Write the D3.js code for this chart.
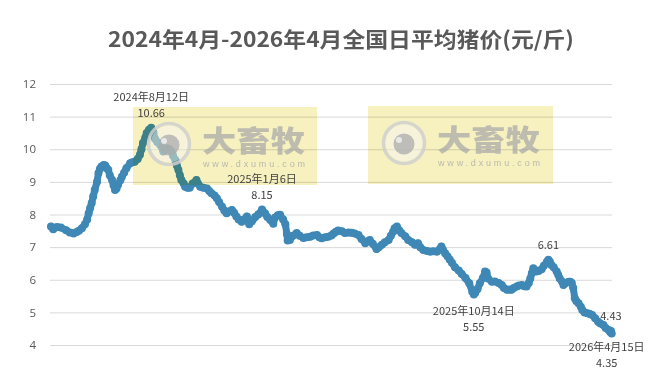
<!DOCTYPE html>
<html><head><meta charset="utf-8">
<script src="https://cdn.jsdelivr.net/npm/d3@7"></script>
<style>
html,body{margin:0;padding:0;background:#fff;}
svg{display:block;background:#fff;}
</style></head>
<body><svg id="chart" width="661" height="371"></svg>
<script>
const titleText = "2024年4月-2026年4月全国日平均猪价(元/斤)";
const yTicks = [4,5,6,7,8,9,10,11,12];
const dates = ["2024-04-01","2024-04-04","2024-04-09","2024-04-14","2024-04-21","2024-04-26","2024-05-01","2024-05-05","2024-05-08","2024-05-12","2024-05-16","2024-05-19","2024-05-21","2024-05-23","2024-05-25","2024-05-27","2024-05-29","2024-06-01","2024-06-03","2024-06-05","2024-06-07","2024-06-10","2024-06-12","2024-06-14","2024-06-16","2024-06-18","2024-06-21","2024-06-23","2024-06-25","2024-06-27","2024-06-29","2024-07-02","2024-07-04","2024-07-07","2024-07-10","2024-07-15","2024-07-18","2024-07-21","2024-07-25","2024-07-28","2024-07-30","2024-08-01","2024-08-04","2024-08-06","2024-08-09","2024-08-12","2024-08-15","2024-08-17","2024-08-20","2024-08-24","2024-08-28","2024-09-02","2024-09-05","2024-09-08","2024-09-10","2024-09-13","2024-09-15","2024-09-17","2024-09-19","2024-09-21","2024-09-24","2024-09-26","2024-09-29","2024-10-02","2024-10-06","2024-10-11","2024-10-13","2024-10-16","2024-10-20","2024-10-25","2024-10-28","2024-10-31","2024-11-04","2024-11-07","2024-11-10","2024-11-14","2024-11-17","2024-11-20","2024-11-24","2024-11-27","2024-11-30","2024-12-03","2024-12-06","2024-12-10","2024-12-13","2024-12-17","2024-12-20","2024-12-24","2024-12-28","2025-01-01","2025-01-06","2025-01-10","2025-01-13","2025-01-17","2025-01-21","2025-01-23","2025-01-27","2025-01-30","2025-02-03","2025-02-06","2025-02-08","2025-02-09","2025-02-12","2025-02-16","2025-02-21","2025-02-25","2025-03-02","2025-03-06","2025-03-11","2025-03-15","2025-03-20","2025-03-23","2025-03-26","2025-03-31","2025-04-04","2025-04-08","2025-04-11","2025-04-14","2025-04-17","2025-04-22","2025-04-26","2025-05-01","2025-05-05","2025-05-09","2025-05-14","2025-05-18","2025-05-23","2025-05-26","2025-05-29","2025-06-02","2025-06-07","2025-06-10","2025-06-14","2025-06-18","2025-06-23","2025-06-26","2025-06-29","2025-07-01","2025-07-04","2025-07-07","2025-07-10","2025-07-15","2025-07-19","2025-07-24","2025-07-28","2025-08-01","2025-08-04","2025-08-08","2025-08-13","2025-08-17","2025-08-21","2025-08-26","2025-08-29","2025-09-01","2025-09-03","2025-09-06","2025-09-09","2025-09-12","2025-09-15","2025-09-19","2025-09-24","2025-09-28","2025-10-03","2025-10-08","2025-10-12","2025-10-14","2025-10-16","2025-10-19","2025-10-22","2025-10-26","2025-10-29","2025-10-31","2025-11-02","2025-11-07","2025-11-11","2025-11-16","2025-11-20","2025-11-23","2025-11-27","2025-11-30","2025-12-03","2025-12-06","2025-12-10","2025-12-13","2025-12-17","2025-12-20","2025-12-23","2025-12-26","2025-12-28","2025-12-30","2026-01-01","2026-01-03","2026-01-05","2026-01-08","2026-01-12","2026-01-15","2026-01-19","2026-01-21","2026-01-23","2026-01-25","2026-01-28","2026-02-01","2026-02-03","2026-02-05","2026-02-08","2026-02-10","2026-02-13","2026-02-17","2026-02-19","2026-02-21","2026-02-23","2026-02-25","2026-02-27","2026-03-02","2026-03-05","2026-03-07","2026-03-10","2026-03-14","2026-03-17","2026-03-20","2026-03-24","2026-03-28","2026-03-31","2026-04-04","2026-04-07","2026-04-11","2026-04-13","2026-04-14","2026-04-15"];
const prices = [7.63,7.55,7.62,7.6,7.52,7.45,7.42,7.46,7.5,7.58,7.7,7.85,8.04,8.2,8.35,8.55,8.75,9.0,9.27,9.4,9.47,9.52,9.5,9.42,9.37,9.2,9.06,8.9,8.75,8.8,8.91,9.05,9.16,9.28,9.42,9.57,9.6,9.62,9.7,9.83,10.0,10.19,10.35,10.5,10.6,10.66,10.5,10.32,10.22,10.13,9.93,10.03,10.0,9.93,9.8,9.67,9.5,9.37,9.2,9.06,8.95,8.85,8.82,8.82,8.95,9.06,8.95,8.85,8.82,8.8,8.72,8.65,8.58,8.5,8.38,8.24,8.12,8.04,8.1,8.14,8.05,7.94,7.85,7.78,7.85,7.94,7.7,7.8,7.92,8.0,8.15,8.04,7.92,7.83,7.72,7.9,7.98,7.99,7.85,7.7,7.4,7.2,7.22,7.35,7.43,7.35,7.28,7.3,7.32,7.36,7.37,7.3,7.27,7.3,7.32,7.36,7.42,7.47,7.51,7.49,7.43,7.45,7.44,7.42,7.37,7.25,7.12,7.18,7.22,7.1,6.94,7.0,7.07,7.15,7.22,7.35,7.47,7.58,7.63,7.52,7.43,7.33,7.22,7.15,7.07,7.12,7.0,6.91,6.88,6.86,6.87,6.86,6.92,7.02,6.92,6.81,6.72,6.62,6.52,6.38,6.28,6.18,6.05,5.89,5.63,5.55,5.6,5.72,5.89,6.05,6.25,6.22,6.04,5.94,5.95,5.9,5.84,5.75,5.69,5.7,5.69,5.75,5.79,5.82,5.84,5.8,5.79,5.9,6.04,6.2,6.35,6.3,6.25,6.27,6.32,6.43,6.55,6.61,6.55,6.45,6.38,6.25,6.15,6.04,5.95,5.84,5.9,5.94,5.94,5.9,5.75,5.43,5.35,5.28,5.17,5.07,5.0,4.97,4.95,4.92,4.82,4.71,4.66,4.61,4.52,4.46,4.4,4.43,4.35];
// annotations
const annDates  = ["2024-08-12","2025-01-06","2025-10-14","2026-01-21","2026-04-14","2026-04-15"];
const annValues = [10.66, 8.15, 5.55, 6.61, 4.43, 4.35];
const annDateText = ["2024年8月12日","2025年1月6日","2025年10月14日","","","2026年4月15日"];
const annPlace  = ["above","above","below","above","above","below"];

const svg = d3.select("#chart");
const parse = d3.timeParse("%Y-%m-%d");
const data = dates.map((d,i)=>({date:parse(d), value:prices[i]}));

const x = d3.scaleTime().domain([parse("2024-04-01"), parse("2026-04-15")]).range([51, 611.7]);
const y = d3.scaleLinear().domain([4,12]).range([345,84]);

const font = "'Noto Sans CJK SC','Noto Sans',sans-serif";

svg.append("rect").attr("width",661).attr("height",371).attr("fill","#fff");

// title
svg.append("text").attr("x", 341).attr("y", 47).attr("text-anchor","middle")
  .attr("font-family", font).attr("font-weight","bold").attr("font-size", 21)
  .attr("fill","#595959").attr("textLength", 466).attr("lengthAdjust","spacingAndGlyphs")
  .text(titleText);

// grid + y axis
const yAxis = d3.axisLeft(y).tickValues(yTicks).tickSize(-(612-50)).tickPadding(14).tickFormat(d3.format("d"));
const gy = svg.append("g").attr("transform","translate(50,0)").call(yAxis);
gy.select(".domain").remove();
gy.selectAll(".tick line").attr("stroke","#d9d9d9").attr("stroke-width",1);
gy.selectAll(".tick text").attr("fill","#595959").attr("font-size",11.5)
  .attr("font-family","'Open Sans','Liberation Sans',sans-serif");

// series
const color = "#3f88b6";
const line = d3.line().x(d=>x(d.date)).y(d=>y(d.value));
svg.append("path").datum(data).attr("d", line).attr("fill","none")
  .attr("stroke", color).attr("stroke-width", 7).attr("stroke-linejoin","round").attr("stroke-linecap","round");
svg.append("g").selectAll("circle").data(data).join("circle")
  .attr("cx", d=>x(d.date)).attr("cy", d=>y(d.value)).attr("r", 4).attr("fill", color);

// watermarks
const marks = [{x:133,y:107,w:184,h:78},{x:368,y:106,w:185,h:78}];
marks.forEach(m=>{
  const g = svg.append("g");
  g.append("rect").attr("x",m.x).attr("y",m.y).attr("width",m.w).attr("height",m.h)
    .attr("fill","#f6f1bf").style("mix-blend-mode","multiply");
  const cx = m.x+36, cy = m.y+37;
  g.append("circle").attr("cx",cx).attr("cy",cy).attr("r",20.5).attr("fill","none")
    .attr("stroke","#cfcfcf").attr("stroke-width",3.5).attr("opacity",0.85);
  g.append("circle").attr("cx",cx).attr("cy",cy).attr("r",18.5).attr("fill","#f6f6f6").attr("opacity",0.5);
  g.append("circle").attr("cx",cx).attr("cy",cy+1).attr("r",10.5).attr("fill","#ababab").attr("opacity",0.75);
  g.append("circle").attr("cx",cx-5).attr("cy",cy-3).attr("r",3).attr("fill","#f0f0f0").attr("opacity",0.85);
  g.append("text").attr("x",m.x+69).attr("y",m.y+45).attr("font-family",font).attr("font-weight",900)
    .attr("font-size",29).attr("fill","#a8a8a8").attr("opacity",0.72)
    .attr("textLength",103).attr("lengthAdjust","spacingAndGlyphs").text("大畜牧");
  g.append("text").attr("x",m.x+70).attr("y",m.y+59.5).attr("font-family","'Liberation Sans',sans-serif")
    .attr("font-size",9).attr("fill","#ababab").attr("opacity",0.8)
    .attr("textLength",102).attr("lengthAdjust","spacing").text("www.dxumu.com");
});

// annotations
const ga = svg.append("g").attr("font-family",font).attr("font-size",11).attr("fill","#404040").attr("text-anchor","middle");
annDates.forEach((d,i)=>{
  const px = x(parse(d)), py = y(annValues[i]);
  const dx = (i===5) ? -5 : 0;
  if (annPlace[i]==="above") {
    ga.append("text").attr("x",px+dx).attr("y",py-11).text(annValues[i].toFixed(2));
    if (annDateText[i]) ga.append("text").attr("x",px+dx).attr("y",py-27).text(annDateText[i]);
  } else {
    const off = (i===5) ? 17 : 21;
    ga.append("text").attr("x",px+dx).attr("y",py+off).text(annDateText[i]);
    ga.append("text").attr("x",px+dx).attr("y",py+off+16).text(annValues[i].toFixed(2));
  }
});
</script></body></html>
